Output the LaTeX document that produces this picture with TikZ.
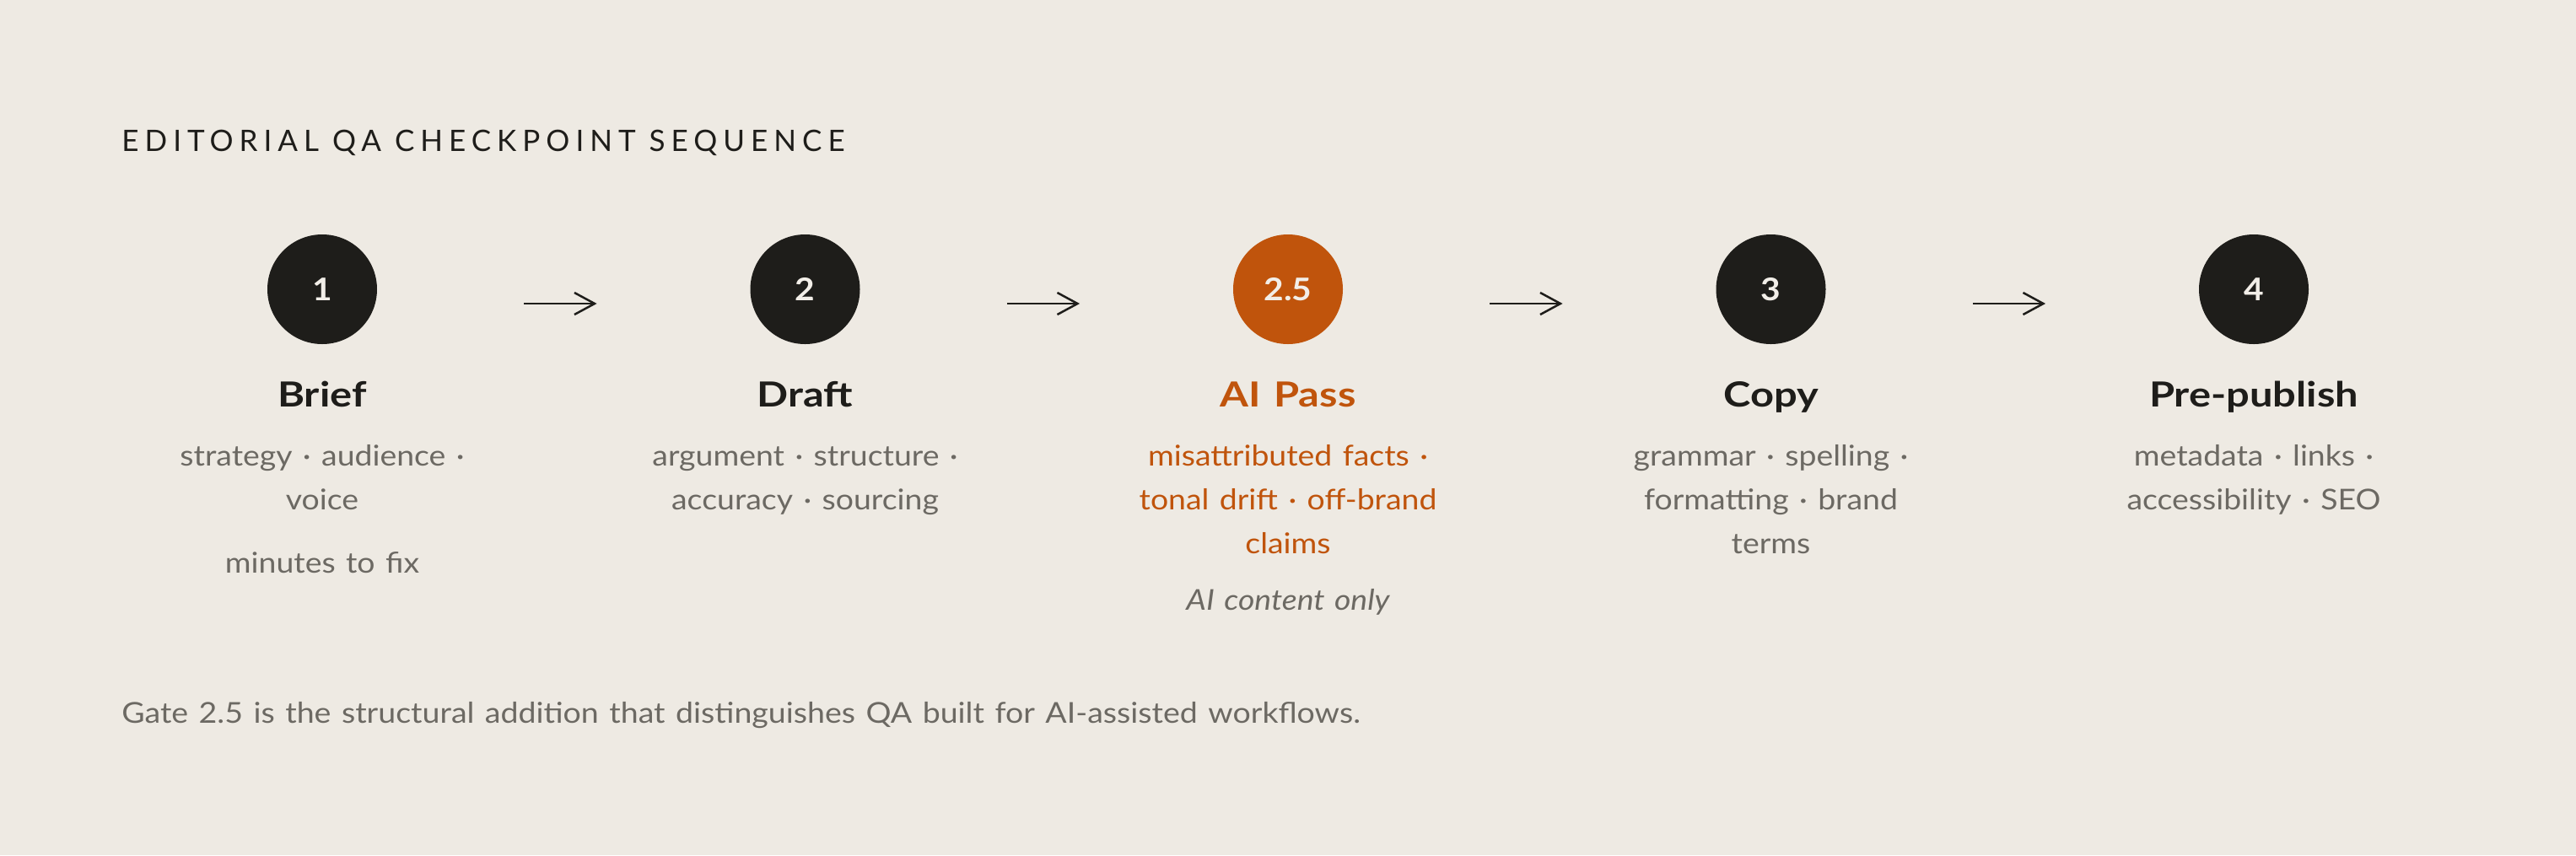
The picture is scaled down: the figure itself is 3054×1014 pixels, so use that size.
\documentclass[tikz,border=0pt]{standalone}
\usepackage{fontspec}
\setmainfont{Lato}[FakeStretch=1.1, WordSpace=1.3]
\newfontfamily\headfont{Lato}[FakeStretch=1.19, WordSpace=1.3]
\newfontfamily\titlefont{Lato}[LetterSpace=20]
\usetikzlibrary{arrows.meta}
\definecolor{bg}{HTML}{EEEAE3}
\definecolor{ink}{HTML}{1E1D1A}
\definecolor{rust}{HTML}{C0540C}
\definecolor{muted}{HTML}{6C6963}
\definecolor{numtxt}{HTML}{F2EEE8}
\begin{document}
\begin{tikzpicture}[x=0.5pt,y=-0.5pt,
  gate/.style={circle, fill=ink, minimum size=65pt, inner sep=0pt, text=numtxt, font=\fontsize{18.5}{20}\selectfont\bfseries},
  gatehi/.style={gate, fill=rust},
  gtitle/.style={anchor=base, inner sep=0pt, text=ink, font=\fontsize{20.5}{24}\selectfont\headfont\bfseries},
  gtitlehi/.style={gtitle, text=rust},
  desc/.style={anchor=base, inner sep=0pt, text=muted, font=\fontsize{17}{26}\selectfont},
  deschi/.style={desc, text=rust},
  flow/.style={draw=ink, line width=1.25pt, -{Straight Barb[length=12pt,width=13pt,line width=1.25pt]}, shorten <=87pt, shorten >=90.75pt}
]
\fill[bg] (0,0) rectangle (3054,1014);
\useasboundingbox (0,0) rectangle (3054,1014);

\node[anchor=base west, inner sep=0pt, text=ink, font=\fontsize{17.5}{20}\selectfont\titlefont] (title) at (144,179) {EDITORIAL QA CHECKPOINT SEQUENCE};

% gates
\node[gate] (c1) at (382,343) {1};
\node[gate] (c2) at (954.5,343) {2};
\node[gatehi] (c3) at (1527,343) {2.5};
\node[gate] (c4) at (2099.5,343) {3};
\node[gate] (c5) at (2672,343) {4};

% arrows
\draw[flow] ([yshift=-8.5pt]c1.east) -- ([yshift=-8.5pt]c2.west);
\draw[flow] ([yshift=-8.5pt]c2.east) -- ([yshift=-8.5pt]c3.west);
\draw[flow] ([yshift=-8.5pt]c3.east) -- ([yshift=-8.5pt]c4.west);
\draw[flow] ([yshift=-8.5pt]c4.east) -- ([yshift=-8.5pt]c5.west);

% titles
\node[gtitle] (t1) at (382,482) {Brief};
\node[gtitle] (t2) at (954.5,482) {Draft};
\node[gtitlehi] (t3) at (1527,482) {AI Pass};
\node[gtitle] (t4) at (2099.5,482) {Copy};
\node[gtitle] (t5) at (2672,482) {Pre-publish};

% descriptions
\node[desc] (d1a) at (382,552) {strategy · audience ·};
\node[desc] (d1b) at (382,604) {voice};
\node[desc] (d1c) at (382,679) {minutes to fix};

\node[desc] (d2a) at (954.5,552) {argument · structure ·};
\node[desc] (d2b) at (954.5,604) {accuracy · sourcing};

\node[deschi] (d3a) at (1527,552) {misattributed facts ·};
\node[deschi] (d3b) at (1527,604) {tonal drift · off-brand};
\node[deschi] (d3c) at (1527,656) {claims};
\node[desc, font=\fontsize{17}{26}\selectfont\itshape] (d3d) at (1527,723) {AI content only};

\node[desc] (d4a) at (2099.5,552) {grammar · spelling ·};
\node[desc] (d4b) at (2099.5,604) {formatting · brand};
\node[desc] (d4c) at (2099.5,656) {terms};

\node[desc] (d5a) at (2672,552) {metadata · links ·};
\node[desc] (d5b) at (2672,604) {accessibility · SEO};

\node[anchor=base west, inner sep=0pt, text=muted, font=\fontsize{17.05}{20}\selectfont] (note) at (144,857) {Gate 2.5 is the structural addition that distinguishes QA built for AI-assisted workflows.};
\end{tikzpicture}
\end{document}
